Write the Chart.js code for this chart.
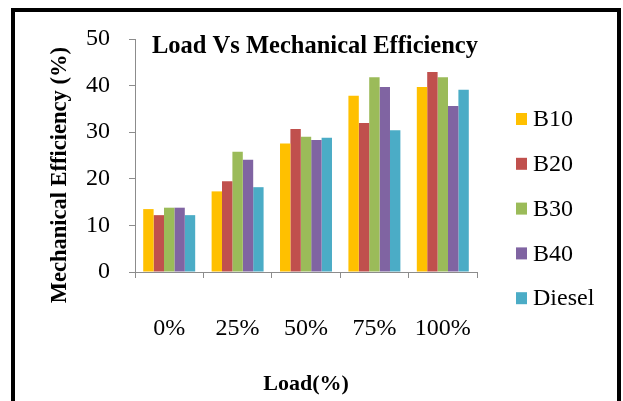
<!DOCTYPE html>
<html>
<head>
<meta charset="utf-8">
<script src="https://cdn.jsdelivr.net/npm/chart.js@4.4.1/dist/chart.umd.min.js"></script>
<style>
  html, body { margin: 0; padding: 0; background: #fff; width: 623px; height: 401px; overflow: hidden; }
  #frame { position: absolute; left: 11px; top: 8px; width: 602px; height: 420px; border: 4px solid #000; }
  #wrap { position: absolute; left: 0; top: 0; width: 623px; height: 401px; }
</style>
</head>
<body>
<div id="frame"></div>
<div id="wrap"><canvas id="chart"></canvas></div>
<script>
// Engine load steps
const loads = ['0%', '25%', '50%', '75%', '100%'];

// Mechanical efficiency (%) per fuel blend
const b10    = [13.5, 17.3, 27.6, 37.8, 39.7];
const b20    = [12.2, 19.5, 30.7, 32.0, 42.9];
const b30    = [13.8, 25.8, 29.0, 41.8, 41.8];
const b40    = [13.8, 24.1, 28.3, 39.7, 35.6];
const diesel = [12.2, 18.2, 28.8, 30.4, 39.1];

const seriesNames  = ['B10', 'B20', 'B30', 'B40', 'Diesel'];
const seriesValues = [b10, b20, b30, b40, diesel];
const seriesColors = ['#FFC000', '#C0504D', '#9BBB59', '#8064A2', '#4BACC6'];

const yTicks = [0, 10, 20, 30, 40, 50];
const chartTitle = 'Load Vs Mechanical Efficiency';

const SERIF = '"Liberation Serif", "Times New Roman", serif';
const AXIS_GREY = '#8c8c8c';

// Title inside the top of the plot, and the legend to the right of it
const chartDecor = {
  id: 'chartDecor',
  afterDraw(chart) {
    const ctx = chart.ctx;
    const area = chart.chartArea;
    ctx.save();

    ctx.font = 'bold 24.5px ' + SERIF;
    ctx.fillStyle = '#000';
    ctx.textAlign = 'center';
    ctx.textBaseline = 'alphabetic';
    ctx.fillText(chartTitle, (area.left + area.right) / 2 + 9, area.top + 14);

    const x0 = area.right + 39;
    const y0 = area.top + 80;
    ctx.font = '24px ' + SERIF;
    ctx.textBaseline = 'middle';
    ctx.textAlign = 'left';
    chart.data.datasets.forEach((ds, i) => {
      const y = y0 + i * 44.8;
      ctx.fillStyle = ds.backgroundColor;
      ctx.fillRect(x0, y - 6, 11, 12);
      ctx.fillStyle = '#000';
      ctx.fillText(ds.label, x0 + 17, y + 1);
    });
    ctx.restore();
  }
};

new Chart(document.getElementById('chart'), {
  type: 'bar',
  data: {
    labels: loads,
    datasets: seriesNames.map((name, i) => ({
      label: name,
      data: seriesValues[i],
      backgroundColor: seriesColors[i],
      borderWidth: 0,
      categoryPercentage: 0.76,
      barPercentage: 1.0
    }))
  },
  options: {
    responsive: true,
    maintainAspectRatio: false,
    animation: false,
    layout: { padding: { left: 40, right: 146, top: 39, bottom: 0 } },
    plugins: {
      legend: { display: false },
      tooltip: { enabled: false },
      title: { display: false }
    },
    scales: {
      x: {
        grid: { display: true, drawOnChartArea: false, drawTicks: true, tickLength: 6, color: AXIS_GREY, offset: true },
        border: { display: true, color: AXIS_GREY, width: 1 },
        ticks: { color: '#000', font: { family: SERIF, size: 24 }, padding: 36, maxRotation: 0 },
        title: {
          display: true,
          text: 'Load(%)',
          color: '#000',
          font: { family: SERIF, size: 22, weight: 'bold' },
          padding: { top: 0, bottom: 3 }
        },
        afterFit(scale) { scale.height = 129; }
      },
      y: {
        min: 0,
        max: 50,
        afterBuildTicks(scale) { scale.ticks = yTicks.map(v => ({ value: v })); },
        grid: { display: true, drawOnChartArea: false, drawTicks: true, tickLength: 6, color: AXIS_GREY },
        border: { display: true, color: AXIS_GREY, width: 1 },
        ticks: { color: '#000', font: { family: SERIF, size: 24 }, padding: 19 },
        title: {
          display: true,
          text: 'Mechanical Efficiency (%)\u00a0\u00a0\u00a0\u00a0\u00a0\u00a0\u00a0',
          color: '#000',
          font: { family: SERIF, size: 22.5, weight: 'bold' },
          padding: { top: 6.5, bottom: 0 }
        },
        afterFit(scale) { scale.width = 95; }
      }
    }
  },
  plugins: [chartDecor]
});
</script>
</body>
</html>
